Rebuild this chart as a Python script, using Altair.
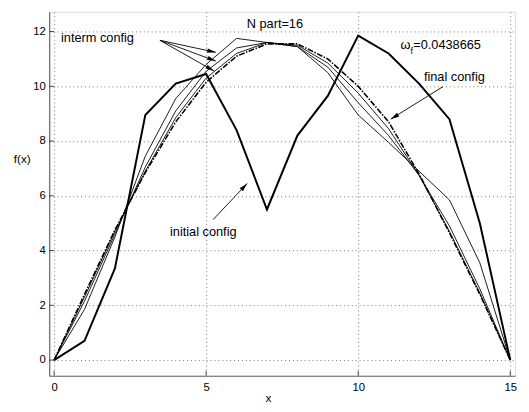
import math
import altair as alt
import pandas as pd

# ---- data ----
X = [0, 1, 2, 3, 4, 5, 6, 7, 8, 9, 10, 11, 12, 13, 14, 15]
INITIAL = [0, 0.7, 3.35, 8.95, 10.1, 10.45, 8.4, 5.5, 8.2, 9.65, 11.85, 11.2, 10.1, 8.8, 5.0, 0]
INTERM_1 = [0, 1.85, 4.5, 7.45, 9.55, 10.8, 11.75, 11.6, 11.45, 10.5, 8.95, 7.95, 6.9, 5.85, 3.55, 0]
INTERM_2 = [0, 2.15, 4.6, 7.05, 9.1, 10.55, 11.4, 11.6, 11.45, 10.7, 9.4, 8.2, 6.75, 4.9, 2.6, 0]
INTERM_3 = [0, 2.3, 4.7, 6.9, 8.85, 10.3, 11.2, 11.6, 11.5, 10.85, 9.75, 8.45, 6.75, 4.7, 2.45, 0]
FINAL = [0, 2.4, 4.75, 6.85, 8.7, 10.15, 11.1, 11.55, 11.55, 11.0, 10.0, 8.7, 6.8, 4.65, 2.4, 0]
X_TICKS = [0, 5, 10, 15]
Y_TICKS = [0, 2, 4, 6, 8, 10, 12]

# annotation anchors (data units)
ARROW_TAIL_X = [3.48, 3.48, 3.48, 12.79, 5.23]
ARROW_TAIL_Y = [11.68, 11.68, 11.68, 9.99, 5.13]
ARROW_TIP_X = [5.32, 5.32, 5.26, 11.07, 6.35]
ARROW_TIP_Y = [11.24, 10.92, 10.56, 8.80, 6.45]

XMIN, XMAX = -0.161, 15.16
YMIN, YMAX = -0.573, 12.72
W, H = 475, 371
FONT = "Liberation Sans"

px_x = W / (XMAX - XMIN)
px_y = H / (YMAX - YMIN)

xs = alt.Scale(domain=[XMIN, XMAX], nice=False, zero=False)
ys = alt.Scale(domain=[YMIN, YMAX], nice=False, zero=False)

x_axis = alt.Axis(values=X_TICKS, title="x", grid=True, gridDash=[1, 3], gridColor="#777",
                  gridWidth=1, ticks=False, labelPadding=6, domainColor="#666", domainWidth=1.2,
                  labelFont=FONT, labelFontSize=11.5, labelColor="black",
                  titleFont=FONT, titleFontSize=12, titleFontWeight="normal", titleColor="black",
                  titleX=223, titleY=22, titleAlign="center", titleBaseline="middle")
y_axis = alt.Axis(values=Y_TICKS, title="f(x)", grid=True, gridDash=[1, 3], gridColor="#777",
                  gridWidth=1, ticks=False, labelPadding=4, domainColor="#666", domainWidth=1.2,
                  labelFont=FONT, labelFontSize=11.5, labelColor="black",
                  titleFont=FONT, titleFontSize=12, titleFontWeight="normal", titleColor="black",
                  titleAngle=0, titleX=-28, titleY=150, titleAlign="center", titleBaseline="middle")


def XE(f="x"):
    return alt.X(f"{f}:Q", scale=xs, axis=x_axis)


def YE(f="y"):
    return alt.Y(f"{f}:Q", scale=ys, axis=y_axis)


def line_df(vals, name):
    return pd.DataFrame({"x": X, "y": vals, "s": name})


interm = pd.concat([line_df(INTERM_1, "i1"), line_df(INTERM_2, "i2"), line_df(INTERM_3, "i3")])

l_interm = alt.Chart(interm).mark_line(color="black", strokeWidth=0.9).encode(
    x=XE(), y=YE(), detail="s:N")
l_final = alt.Chart(line_df(FINAL, "f")).mark_line(
    color="black", strokeWidth=1.6, strokeDash=[6, 1.5, 1.5, 1.5]).encode(x=XE(), y=YE())
l_init = alt.Chart(line_df(INITIAL, "0")).mark_line(color="black", strokeWidth=2).encode(
    x=XE(), y=YE())

# inward ticks
xt = pd.DataFrame({"x": X_TICKS, "y": [YMIN] * 4, "y2": [YMIN + 5 / px_y] * 4})
yt = pd.DataFrame({"y": Y_TICKS, "x": [XMIN] * 7, "x2": [XMIN + 5 / px_x] * 7})
t_x = alt.Chart(xt).mark_rule(color="#444", strokeWidth=1).encode(x=XE(), y=YE(), y2="y2:Q")
t_y = alt.Chart(yt).mark_rule(color="#444", strokeWidth=1).encode(x=XE(), x2="x2:Q", y=YE())

# arrows
arr = pd.DataFrame({"x": ARROW_TAIL_X, "y": ARROW_TAIL_Y, "x2": ARROW_TIP_X, "y2": ARROW_TIP_Y})
a_lines = alt.Chart(arr).mark_rule(color="black", strokeWidth=0.9).encode(
    x=XE(), y=YE(), x2="x2:Q", y2="y2:Q")
angles = []
for tx, ty, hx, hy in zip(ARROW_TAIL_X, ARROW_TAIL_Y, ARROW_TIP_X, ARROW_TIP_Y):
    dx = (hx - tx) * px_x
    dy = -(hy - ty) * px_y
    angles.append(math.degrees(math.atan2(dx, -dy)) % 360)
heads = pd.DataFrame({"x": ARROW_TIP_X, "y": ARROW_TIP_Y, "angle": angles})
a_heads = alt.Chart(heads).mark_point(
    shape="M0,0L0.55,2.2L-0.55,2.2Z", filled=True, color="black", opacity=1, size=64,
    strokeWidth=0).encode(x=XE(), y=YE(), angle=alt.Angle("angle:Q", scale=None))

# texts
def txt(x, y, s, size=13, align="left"):
    d = pd.DataFrame({"x": [x], "y": [y], "t": [s]})
    return alt.Chart(d).mark_text(font=FONT, fontSize=size, align=align, baseline="middle",
                                  color="black").encode(x=XE(), y=YE(), text="t:N")


texts = [
    txt(7.26, 12.26, "N part=16", align="center"),
    txt(0.226, 11.76, "interm config"),
    txt(11.39, 11.5, "ω"),
    txt(11.72, 11.27, "f", size=9),
    txt(11.81, 11.5, "=0.0438665"),
    txt(12.16, 10.33, "final config"),
    txt(3.81, 4.67, "initial config"),
]

chart = alt.layer(l_interm, l_final, l_init, t_x, t_y, a_lines, a_heads, *texts).properties(
    width=W, height=H,
    autosize=alt.AutoSizeParams(type="none"),
    padding={"left": 42, "top": 0, "right": 6, "bottom": 30},
).configure_view(strokeWidth=0).configure(background="white")

chart.save("out.html", embed_options={"renderer": "svg", "actions": False})
